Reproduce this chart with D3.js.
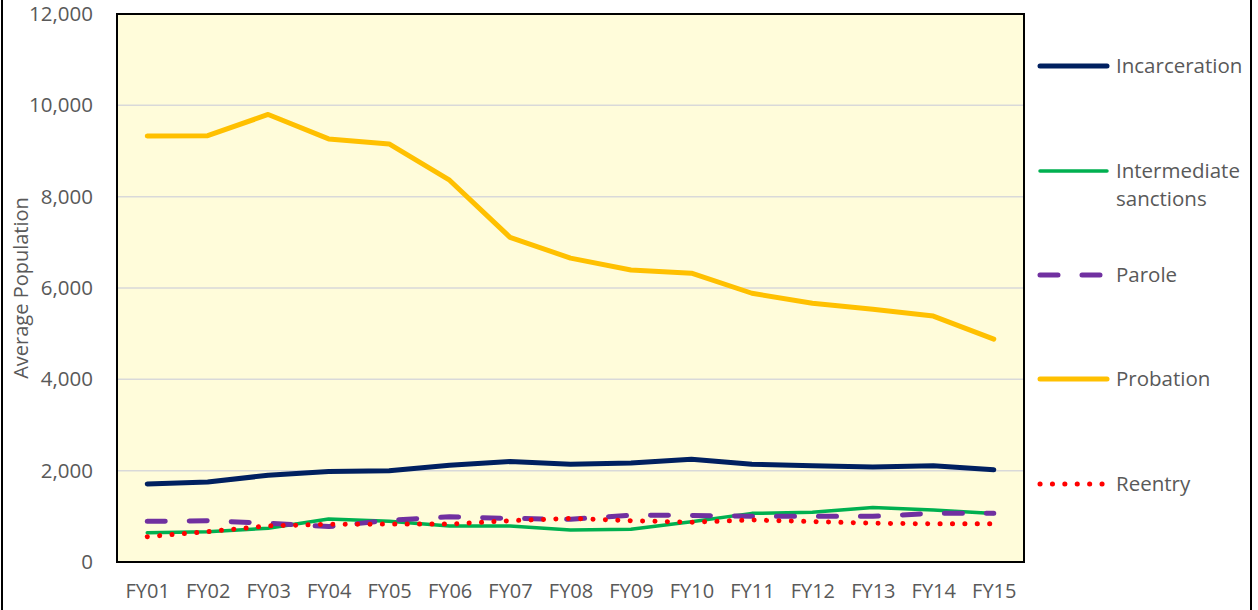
<!DOCTYPE html>
<html>
<head>
<meta charset="utf-8">
<script src="https://cdn.jsdelivr.net/npm/d3@7"></script>
<style>
  html, body { margin: 0; padding: 0; background: #fff; }
  svg { display: block; font-family: "Open Sans", "Noto Sans", sans-serif; }
  .tick text { fill: #595959; }
</style>
</head>
<body>
<svg id="chart" width="1258" height="610"></svg>
<script>
// Average population by supervision type, FY01–FY15
const years = ['FY01','FY02','FY03','FY04','FY05','FY06','FY07','FY08','FY09','FY10','FY11','FY12','FY13','FY14','FY15'];
const incarceration = [1710, 1750, 1900, 1980, 2000, 2120, 2200, 2140, 2170, 2250, 2140, 2110, 2080, 2110, 2020];
const intermediate  = [640, 660, 740, 940, 890, 790, 790, 700, 715, 880, 1065, 1090, 1195, 1140, 1060];
const parole        = [890, 905, 850, 775, 915, 990, 955, 935, 1025, 1020, 1000, 1000, 1000, 1065, 1065];
const probation     = [9330, 9335, 9800, 9265, 9155, 8360, 7110, 6655, 6395, 6325, 5885, 5665, 5535, 5385, 4880];
const reentry       = [555, 665, 790, 825, 830, 830, 905, 955, 905, 870, 920, 885, 850, 835, 835];
const yTicks = [0, 2000, 4000, 6000, 8000, 10000, 12000];

const series = [
  { name: 'Incarceration', values: incarceration, color: '#002060', width: 5 },
  { name: 'Intermediate sanctions', values: intermediate, color: '#00B050', width: 3.5 },
  { name: 'Parole', values: parole, color: '#7030A0', width: 5, dash: '18,24' },
  { name: 'Probation', values: probation, color: '#FFC000', width: 5 },
  { name: 'Reentry', values: reentry, color: '#FF0000', width: 5, dash: '0.1,12.3' },
];

const svg = d3.select('#chart');
const W = 1258, H = 610;
const plot = { left: 117, top: 14, right: 1024, bottom: 562 };

// outer chart frame (top/bottom run off the page)
svg.append('rect')
  .attr('x', 2).attr('y', -5).attr('width', 1249).attr('height', H + 10)
  .attr('fill', '#fff').attr('stroke', '#000').attr('stroke-width', 2);

const x = d3.scalePoint().domain(years).range([plot.left, plot.right]).padding(0.5);
const y = d3.scaleLinear().domain([0, 12000]).range([plot.bottom, plot.top]);

// plot background
svg.append('rect')
  .attr('x', plot.left).attr('y', plot.top)
  .attr('width', plot.right - plot.left).attr('height', plot.bottom - plot.top)
  .attr('fill', '#FFFCDA');

// gridlines
svg.append('g')
  .selectAll('line')
  .data(yTicks.filter(d => d > 0 && d < 12000))
  .join('line')
  .attr('x1', plot.left).attr('x2', plot.right)
  .attr('y1', d => y(d)).attr('y2', d => y(d))
  .attr('stroke', '#d9d9d9').attr('stroke-width', 1.5);

// y axis labels
const yAxis = svg.append('g')
  .attr('transform', `translate(${plot.left},0)`)
  .call(d3.axisLeft(y).tickValues(yTicks).tickFormat(d3.format(',')).tickSize(0).tickPadding(24));
yAxis.select('.domain').remove();
yAxis.selectAll('text').attr('font-size', 20.5).attr('font-family', '"Open Sans", sans-serif');

// x axis labels
const xAxis = svg.append('g')
  .attr('transform', `translate(0,${plot.bottom})`)
  .call(d3.axisBottom(x).tickSize(0).tickPadding(22));
xAxis.select('.domain').remove();
xAxis.selectAll('text').attr('font-size', 20).attr('font-family', '"Open Sans", sans-serif');

// y axis title
svg.append('text')
  .attr('transform', `translate(28,${(plot.top + plot.bottom) / 2}) rotate(-90)`)
  .attr('text-anchor', 'middle')
  .attr('fill', '#595959')
  .attr('font-size', 20)
  .text('Average Population');

// lines
const line = d3.line()
  .x((d, i) => x(years[i]))
  .y(d => y(d));

const linesG = svg.append('g');
series.forEach(s => {
  linesG.append('path')
    .datum(s.values)
    .attr('d', line)
    .attr('fill', 'none')
    .attr('stroke', s.color)
    .attr('stroke-width', s.width)
    .attr('stroke-linecap', 'round')
    .attr('stroke-linejoin', 'round')
    .attr('stroke-dasharray', s.dash || null);
});

// plot border on top
svg.append('rect')
  .attr('x', plot.left).attr('y', plot.top)
  .attr('width', plot.right - plot.left).attr('height', plot.bottom - plot.top)
  .attr('fill', 'none').attr('stroke', '#000').attr('stroke-width', 2);

// legend
const legendY = [66, 171, 275, 379, 484];
const legend = svg.append('g');
series.forEach((s, i) => {
  const ly = legendY[i];
  legend.append('line')
    .attr('x1', 1040).attr('x2', s.dash ? 1103 : 1107)
    .attr('y1', ly).attr('y2', ly)
    .attr('stroke', s.color)
    .attr('stroke-width', s.width)
    .attr('stroke-linecap', 'round')
    .attr('stroke-dasharray', s.dash || null);
  const words = s.name === 'Intermediate sanctions' ? ['Intermediate', 'sanctions'] : [s.name];
  const t = legend.append('text')
    .attr('x', 1116).attr('y', ly)
    .attr('fill', '#595959')
    .attr('font-size', 20.5);
  words.forEach((w, k) => {
    t.append('tspan').attr('x', 1116).attr('dy', k === 0 ? '0.35em' : 28).text(w);
  });
});
</script>
</body>
</html>
